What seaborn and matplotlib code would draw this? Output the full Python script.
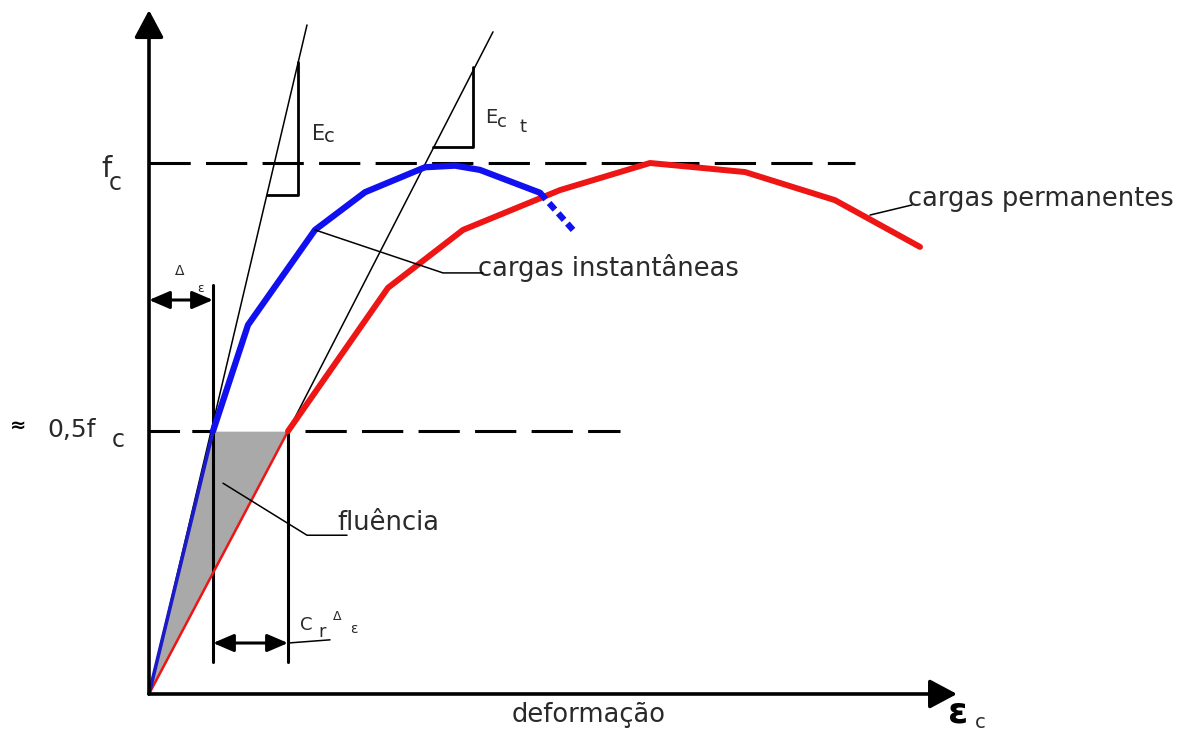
import matplotlib as mpl

mpl.use('Agg')
import matplotlib.pyplot as plt
from matplotlib.patches import ArrowStyle
import numpy as np
import pandas as pd
import seaborn as sns

#### data ####
# strain (arbitrary units) and stress as a fraction of fc
inst_strain = [0, 0.32, 0.495, 0.83, 1.08, 1.38, 1.53, 1.655, 1.955]
inst_stress = [0, 0.495, 0.695, 0.874, 0.945, 0.992, 0.995, 0.987, 0.944]
inst_tail_strain = [1.955, 2.12]
inst_tail_stress = [0.944, 0.874]

perm_strain = [0, 0.695, 1.195, 1.57, 2.055, 2.505, 2.98, 3.43, 3.855]
perm_stress = [0, 0.495, 0.765, 0.874, 0.949, 1.0, 0.983, 0.930, 0.842]

fc_level = 1.0
half_level = 0.495

# tangent lines (start, end)
ec_line = [(0, 0), (0.79, 1.26)]
ect_line = [(0.695, 0.495), (1.72, 1.247)]
###############

BLUE = '#1010f0'
RED = '#ee1515'
TXT = '#2a2a2a'
FS = 18.5

sns.set_theme(style='white')
plt.rcParams['font.family'] = ['DejaVu Sans']

fig = plt.figure(figsize=(11.98, 7.31), dpi=100)
ax = fig.add_axes([0, 0, 1, 1])
ax.set_xlim(-0.745, 5.245)
ax.set_ylim(-0.0697, 1.307)
ax.axis('off')


def arrow(start, end, style, lw, ms, hl, hw):
    ax.annotate('', xy=end, xytext=start,
                arrowprops=dict(arrowstyle=ArrowStyle(style, head_length=hl,
                                                      head_width=hw),
                                lw=lw, color='black', mutation_scale=ms,
                                shrinkA=0, shrinkB=0), zorder=6)


# creep area
ys = np.linspace(0, half_level, 60)
xb = np.interp(ys, inst_stress[:2], inst_strain[:2])
xr = np.interp(ys, perm_stress[:2], perm_strain[:2])
ax.fill_betweenx(ys, xb, xr, color='#a9a9a9', lw=0, zorder=1)

# reference levels
ax.plot([0, 3.53], [fc_level, fc_level], color='black', lw=2.2,
        dashes=(13.5, 5), zorder=2)
ax.plot([0, inst_strain[1]], [half_level, half_level], color='black', lw=2.2,
        dashes=(10, 4), zorder=2)
ax.plot([0.78, 2.355], [half_level, half_level], color='black', lw=2.2,
        dashes=(13.5, 5), zorder=2)

# tangent lines
for line in (ec_line, ect_line):
    ax.plot([line[0][0], line[1][0]], [line[0][1], line[1][1]],
            color='black', lw=1.1, zorder=3)
# slope triangles
ax.plot([0.59, 0.745, 0.745], [0.940, 0.940, 1.190], color='black', lw=2,
        zorder=3)
ax.plot([1.42, 1.62, 1.62], [1.030, 1.030, 1.181], color='black', lw=2,
        zorder=3)

# curves
inst = pd.DataFrame({'strain': inst_strain, 'stress': inst_stress})
perm = pd.DataFrame({'strain': perm_strain, 'stress': perm_stress})
sns.lineplot(data=perm.iloc[:2], x='strain', y='stress', sort=False,
             estimator=None, color=RED, lw=1.8, ax=ax, zorder=4)
sns.lineplot(data=perm.iloc[1:], x='strain', y='stress', sort=False,
             estimator=None, color=RED, lw=4.3, ax=ax, zorder=4)
sns.lineplot(data=inst.iloc[:2], x='strain', y='stress', sort=False,
             estimator=None, color='#1a1ac8', lw=2.6, ax=ax, zorder=5)
sns.lineplot(data=inst.iloc[1:], x='strain', y='stress', sort=False,
             estimator=None, color=BLUE, lw=4.5, ax=ax, zorder=5)
sns.lineplot(x=inst_tail_strain, y=inst_tail_stress, sort=False,
             estimator=None, color=BLUE, lw=4.5, dashes=False, ax=ax, zorder=5,
             linestyle=(0, (1.4, 0.8)))
ax.set(xlabel='', ylabel='')
ax.axis('off')

# axes with arrows
arrow((0, 0), (0, 1.288), '-|>', 2.6, 28, 0.6, 0.32)
arrow((0, 0), (4.04, 0), '-|>', 2.6, 28, 0.6, 0.32)

# dimension lines
ax.plot([0.32, 0.32], [0.060, 0.770], color='black', lw=2.2, zorder=3)
ax.plot([0.695, 0.695], [0.060, half_level], color='black', lw=2.2, zorder=3)
arrow((0, 0.742), (0.32, 0.742), '<|-|>', 2.2, 18, 0.7, 0.3)
arrow((0.32, 0.096), (0.695, 0.096), '<|-|>', 2.2, 18, 0.7, 0.3)

# leader lines
ax.plot([0.83, 1.47, 1.67], [0.874, 0.793, 0.793], color='black', lw=1.1,
        zorder=6)
ax.plot([3.605, 3.815], [0.902, 0.921], color='black', lw=1.1, zorder=6)
ax.plot([0.37, 0.79, 0.99], [0.397, 0.299, 0.299], color='black', lw=1.1,
        zorder=6)
ax.plot([0.695, 0.905], [0.096, 0.102], color='black', lw=1.1, zorder=6)

# labels
ax.text(1.645, 0.787, 'cargas instantâneas', fontsize=FS, color=TXT,
        va='baseline')
ax.text(3.795, 0.919, 'cargas permanentes', fontsize=FS, color=TXT,
        va='baseline')
ax.text(0.94, 0.309, 'fluência', fontsize=FS, color=TXT, va='baseline')
ax.text(1.815, -0.053, 'deformação', fontsize=FS, color=TXT, va='baseline')

ax.text(3.995, -0.053, 'ε', fontsize=26, fontweight='bold', color='black',
        va='baseline')
ax.text(4.13, -0.064, 'c', fontsize=14, color=TXT, va='baseline')

ax.text(-0.24, 0.974, 'f', fontsize=21, color=TXT, va='baseline')
ax.text(-0.2, 0.950, 'c', fontsize=17, color=TXT, va='baseline')

ax.text(-0.695, 0.495, '≈', fontsize=14, fontweight='bold', color='black',
        va='baseline')
ax.text(-0.51, 0.484, '0,5f', fontsize=18, color=TXT, va='baseline')
ax.text(-0.185, 0.465, 'c', fontsize=17, color=TXT, va='baseline')

ax.text(0.815, 1.043, 'E', fontsize=15, color=TXT, va='baseline')
ax.text(0.875, 1.040, 'c', fontsize=14, color=TXT, va='baseline')

ax.text(1.68, 1.075, 'E', fontsize=14, color=TXT, va='baseline')
ax.text(1.74, 1.068, 'c', fontsize=13, color=TXT, va='baseline')
ax.text(1.85, 1.058, 't', fontsize=13, color=TXT, va='baseline')

ax.text(0.13, 0.789, 'Δ', fontsize=10, color=TXT, va='baseline')
ax.text(0.24, 0.757, 'ε', fontsize=9, color=TXT, va='baseline')

ax.text(0.755, 0.121, 'C', fontsize=13, color=TXT, va='baseline')
ax.text(0.845, 0.107, 'r', fontsize=13, color=TXT, va='baseline')
ax.text(0.92, 0.139, 'Δ', fontsize=9, color=TXT, va='baseline')
ax.text(1.005, 0.115, 'ε', fontsize=10, color=TXT, va='baseline')

plt.savefig('out.png', dpi=100)
